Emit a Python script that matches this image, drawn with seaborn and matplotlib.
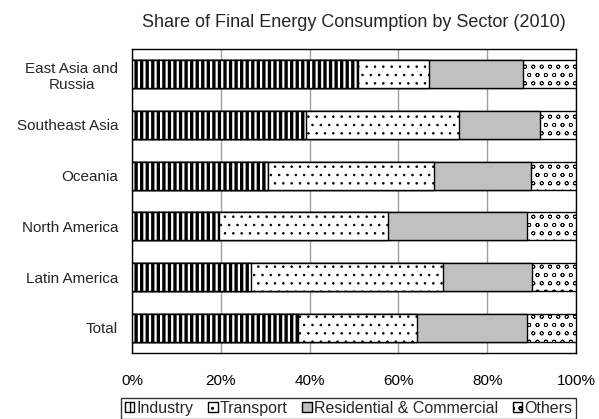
import matplotlib
matplotlib.use('Agg')
import matplotlib.pyplot as plt
from matplotlib.patches import Patch
from matplotlib.ticker import PercentFormatter, FixedLocator
import seaborn as sns
import pandas as pd
import numpy as np

regions = ['East Asia and\nRussia', 'Southeast Asia', 'Oceania',
           'North America', 'Latin America', 'Total']
industry = [50.8, 39.2, 30.6, 19.7, 26.7, 37.3]
transport = [16.2, 34.4, 37.5, 38.0, 43.4, 26.8]
residential = [21.1, 18.4, 21.8, 31.3, 20.1, 24.8]
others = [11.9, 8.0, 10.1, 11.0, 9.8, 11.1]
sectors = ['Industry', 'Transport', 'Residential & Commercial', 'Others']

sns.set_style('white')
plt.rcParams['font.family'] = ['Liberation Sans', 'DejaVu Sans']
plt.rcParams['hatch.color'] = 'black'
fs = 11

df = pd.DataFrame({'region': regions, 'Industry': industry, 'Transport': transport,
                   'Residential & Commercial': residential, 'Others': others})
cum = df[sectors].cumsum(axis=1)

fig = plt.figure(figsize=(5.99, 4.19), dpi=100)
ax = fig.add_axes([0.2204, 0.1575, 0.7412, 0.7256])

styles = {
    'Industry': dict(fc='white', hatch='|||', hlw=2.4),
    'Transport': dict(fc='white', hatch='..', hlw=0.6),
    'Residential & Commercial': dict(fc='#c0c0c0', hatch=None, hlw=1.0),
    'Others': dict(fc='white', hatch='oo', hlw=0.5),
}

# stacked bars: draw cumulative totals from the right, each layer on top
for s in reversed(sectors):
    st = styles[s]
    sns.barplot(x=cum[s], y=df['region'], orient='h', color=st['fc'],
                width=0.55, edgecolor='black', linewidth=1.0, saturation=1,
                ax=ax, zorder=3)
    for p in ax.containers[-1]:
        p.set_facecolor(st['fc'])
        if st['hatch']:
            p.set_hatch(st['hatch'])
            if hasattr(p, 'set_hatch_linewidth'):
                p.set_hatch_linewidth(st['hlw'])

ax.set_xlim(0, 100)
ax.set_ylim(5.5, -0.5)
ax.xaxis.set_major_locator(FixedLocator([0, 20, 40, 60, 80, 100]))
ax.xaxis.set_major_formatter(PercentFormatter(decimals=0))
ax.grid(axis='x', color='#a0a0a0', linewidth=1.0, zorder=0)
ax.set_axisbelow(True)
ax.set_xlabel('')
ax.set_ylabel('')
for sp in ax.spines.values():
    sp.set_visible(True)
    sp.set_color('black')
    sp.set_linewidth(1.0)

ax.tick_params(axis='x', direction='in', length=4, width=1, labelsize=fs, pad=15, colors='black')
ax.tick_params(axis='y', length=0, labelsize=fs, pad=10)
ax.yaxis.set_minor_locator(FixedLocator(np.arange(0.5, 5, 1.0)))
ax.tick_params(axis='y', which='minor', direction='in', length=4, width=1, color='black')
for lbl in ax.get_yticklabels():
    lbl.set_multialignment('center')

ax.set_title('Share of Final Energy Consumption by Sector (2010)', fontsize=13, pad=16)

handles = []
for s in sectors:
    st = styles[s]
    handles.append(Patch(facecolor=st['fc'], edgecolor='black', hatch=st['hatch'], label=s))
leg = fig.legend(handles=handles, loc='lower center', bbox_to_anchor=(0.582, 0.0), ncol=4,
                 frameon=True, fancybox=False, edgecolor='black', fontsize=11.5,
                 handlelength=0.6, handleheight=0.6, handletextpad=0.15,
                 columnspacing=0.9, borderpad=0.2, borderaxespad=0)
leg.get_frame().set_linewidth(1.0)

fig.savefig('out.png', dpi=100)
